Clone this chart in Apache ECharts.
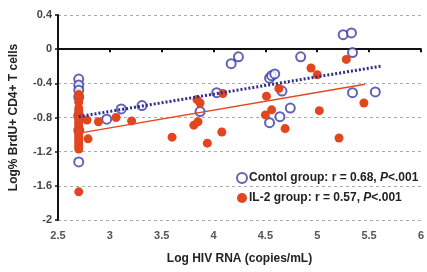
<!DOCTYPE html>
<html>
<head>
<meta charset="utf-8">
<script src="https://cdn.jsdelivr.net/npm/echarts@6/dist/echarts.min.js"></script>
<style>
html, body { margin: 0; padding: 0; background: #fff; }
#chart { width: 427px; height: 272px; }
</style>
</head>
<body>
<div id="chart"></div>
<script>
var xTicks = [2.5, 3, 3.5, 4, 4.5, 5, 5.5, 6];
var yTicks = [-2, -1.6, -1.2, -0.8, -0.4, 0, 0.4];

var controlName = 'Contol group';
var il2Name = 'IL-2 group';
var controlStats = { r: '0.68', p: '.001' };
var il2Stats = { r: '0.57', p: '.001' };

// log HIV RNA, log % BrdU+ (control, open circles)
var controlX = [2.7, 2.7, 2.7, 2.7, 2.7, 2.7, 2.7, 2.97, 3.11, 3.31, 3.87, 4.03, 4.17, 4.24,
	4.54, 4.56, 4.59, 4.66, 4.74, 4.64, 4.54, 4.84, 5.25, 5.33, 5.34, 5.34, 5.56];
var controlY = [-0.35, -0.42, -0.48, -0.56, -0.78, -0.95, -1.32, -0.82, -0.70, -0.66, -0.73, -0.51, -0.17, -0.09,
	-0.34, -0.31, -0.29, -0.49, -0.69, -0.79, -0.86, -0.09, 0.17, 0.19, -0.04, -0.51, -0.50];

// IL-2 group, filled dots
var il2X = [2.7, 2.7, 2.7, 2.7, 2.7, 2.7, 2.7, 2.7, 2.7, 2.7, 2.7, 2.7, 2.7, 2.7, 2.7, 2.7, 2.7, 2.7, 2.7, 2.7, 2.7,
	2.78, 2.79, 2.89, 3.06, 3.21, 3.6, 3.84, 3.87, 3.81, 3.85, 3.94, 4.08, 4.09,
	4.5, 4.51, 4.56, 4.63, 4.69, 4.94, 5.0, 5.02, 5.21, 5.28, 5.45];
var il2Y = [-0.53, -0.58, -0.62, -0.69, -0.72, -0.75, -0.78, -0.81, -0.84, -0.87, -0.9, -0.93, -0.96, -0.99,
	-1.02, -1.05, -1.08, -1.11, -1.14, -1.17, -1.67,
	-0.83, -1.05, -0.85, -0.80, -0.84, -1.03, -0.59, -0.63, -0.89, -0.85, -1.1, -0.97, -0.52,
	-0.77, -0.55, -0.71, -0.46, -0.93, -0.22, -0.30, -0.72, -1.04, -0.12, -0.63];

// regression line end points
var controlFitX = [2.7, 5.61];
var controlFitY = [-0.79, -0.2];
var il2FitX = [2.72, 5.46];
var il2FitY = [-0.98, -0.41];

function pairs(xs, ys) {
	var d = [];
	for (var i = 0; i < xs.length; i++) {
		d.push([xs[i], ys[i]]);
	}
	return d;
}

var blue = '#3b3ba6';
var red = '#e2461f';
var font = 'Liberation Sans, Arial, sans-serif';

function legendText(name) {
	var s = name == controlName ? controlStats : il2Stats;
	return '{b|' + name + ': r = ' + s.r + ', }{i|P}{b|<' + s.p + '}';
}

var chart = echarts.init(document.getElementById('chart'), null, { renderer: 'canvas' });
chart.setOption({
	animation: false,
	textStyle: { fontFamily: font },
	grid: { left: 57, right: 1, top: 15, bottom: 52, containLabel: false },
	legend: {
		orient: 'vertical',
		left: 236,
		top: 172,
		padding: 0,
		itemWidth: 10,
		itemHeight: 10,
		itemGap: 8,
		data: [
			{ name: controlName, icon: 'emptyCircle' },
			{ name: il2Name, icon: 'circle' }
		],
		formatter: legendText,
		textStyle: {
			padding: [0, 0, 0, -3],
			rich: {
				b: { fontWeight: 'bold', fontSize: 12, color: '#222', fontFamily: font },
				i: { fontWeight: 'bold', fontStyle: 'italic', fontSize: 12, color: '#222', fontFamily: font }
			}
		}
	},
	xAxis: [{
		type: 'value',
		position: 'bottom',
		min: 2.5,
		max: 6,
		interval: 0.5,
		name: 'Log HIV RNA (copies/mL)',
		nameLocation: 'middle',
		nameGap: 33,
		nameTextStyle: { fontWeight: 'bold', fontSize: 12, color: '#222' },
		axisLine: { show: false, onZero: false },
		axisTick: { show: false },
		splitLine: { show: false },
		axisLabel: { margin: 10, fontSize: 11, color: '#555', fontWeight: 'bold', showMaxLabel: true }
	}, {
		type: 'value',
		position: 'top',
		min: 2.5,
		max: 6,
		interval: 0.5,
		axisLine: { show: true, onZero: true, lineStyle: { color: '#111', width: 2 } },
		axisTick: { show: true, inside: true, length: 3, lineStyle: { color: '#111', width: 2 } },
		axisLabel: { show: false },
		splitLine: { show: false }
	}],
	yAxis: {
		type: 'value',
		min: -2,
		max: 0.4,
		interval: 0.4,
		name: 'Log% BrdU+ CD4+ T cells',
		nameLocation: 'middle',
		nameGap: 38,
		nameTextStyle: { fontWeight: 'bold', fontSize: 12, color: '#222' },
		axisLine: { show: true, lineStyle: { color: '#111', width: 2 } },
		axisTick: { show: true, length: 3, lineStyle: { color: '#111', width: 1.5 } },
		axisLabel: { margin: 6, fontSize: 11, color: '#444', fontWeight: 'bold' },
		splitLine: { show: true, lineStyle: { color: '#aaa', type: [3, 3], width: 1 } }
	},
	series: [{
		name: controlName,
		type: 'scatter',
		symbol: 'emptyCircle',
		symbolSize: 9,
		itemStyle: { color: blue, borderColor: blue, borderWidth: 1.5 },
		data: pairs(controlX, controlY),
		z: 2
	}, {
		name: il2Name,
		type: 'scatter',
		symbol: 'circle',
		symbolSize: 9,
		itemStyle: { color: red, opacity: 1 },
		data: pairs(il2X, il2Y),
		z: 3
	}, {
		name: 'controlFit',
		type: 'line',
		showSymbol: false,
		symbol: 'none',
		lineStyle: { color: '#2d2d8c', width: 3, type: [2, 2] },
		data: pairs(controlFitX, controlFitY),
		z: 4
	}, {
		name: 'il2Fit',
		type: 'line',
		showSymbol: false,
		symbol: 'none',
		lineStyle: { color: red, width: 1.5 },
		data: pairs(il2FitX, il2FitY),
		z: 4
	}]
});
</script>
</body>
</html>
